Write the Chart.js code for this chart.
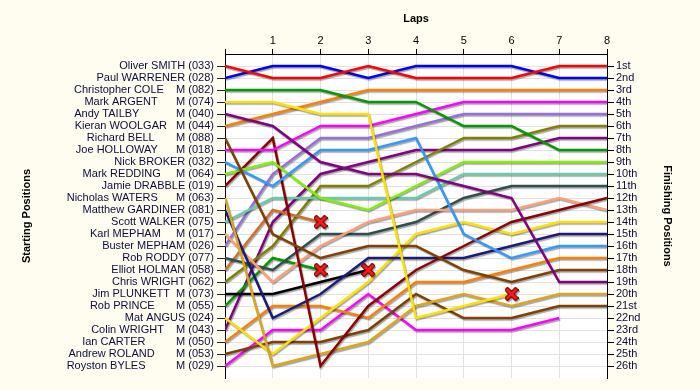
<!DOCTYPE html>
<html>
<head>
<meta charset="utf-8">
<script src="https://cdn.jsdelivr.net/npm/chart.js@4.4.1/dist/chart.umd.min.js"></script>
<style>
  html, body { margin: 0; padding: 0; background: #fefdf0; }
  #wrap { width: 700px; height: 390px; }
</style>
</head>
<body>
<div id="wrap"><canvas id="lap-chart" width="700" height="390"></canvas></div>
<script>
// Starting grid labels, top to bottom (as printed on the left axis)
var startLabels = [
  "Oliver SMITH (033)",
  "Paul WARRENER (028)",
  "Christopher COLE    M (082)",
  "Mark ARGENT      M (074)",
  "Andy TAILBY            M (040)",
  "Kieran WOOLGAR   M (044)",
  "Richard BELL       M (088)",
  "Joe HOLLOWAY      M (018)",
  "Nick BROKER (032)",
  "Mark REDDING     M (064)",
  "Jamie DRABBLE (019)",
  "Nicholas WATERS      M (063)",
  "Matthew GARDINER (081)",
  "Scott WALKER (075)",
  "Karl MEPHAM     M (017)",
  "Buster MEPHAM (026)",
  "Rob RODDY (077)",
  "Elliot HOLMAN (058)",
  "Chris WRIGHT (062)",
  "Jim PLUNKETT  M (073)",
  "Rob PRINCE       M (055)",
  "Mat ANGUS (024)",
  "Colin WRIGHT    M (043)",
  "Ian CARTER          M (050)",
  "Andrew ROLAND       M (053)",
  "Royston BYLES          M (029)"
];

var finishLabels = [
  "1st", "2nd", "3rd", "4th", "5th", "6th", "7th", "8th", "9th", "10th",
  "11th", "12th", "13th", "14th", "15th", "16th", "17th", "18th", "19th", "20th",
  "21st", "22nd", "23rd", "24th", "25th", "26th"
];

var laps = [0, 1, 2, 3, 4, 5, 6, 7, 8];

// running position of each driver at the end of every lap (lap 0 = grid)
var positions = [
  [1, 2, 2, 1, 2, 2, 2, 1, 1],
  [2, 1, 1, 2, 1, 1, 1, 2, 2],
  [3, 3, 3, 4, 4, 6, 6, 8, 8],
  [4, 4, 5, 5, 22, 21, 20, null, null],
  [5, 6, 9, 10, 10, 11, 12, 19, 19],
  [6, 5, 4, 3, 3, 3, 3, 3, 3],
  [7, 15, 17, 16, 16, 18, 19, 18, 18],
  [8, 8, 6, 6, 5, 4, 4, 4, 4],
  [9, 11, 8, 8, 7, 15, 17, 16, 16],
  [10, 9, 12, 13, 11, 9, 9, 9, 9],
  [11, 7, 26, 21, 18, 16, 14, 13, 12],
  [12, 26, 25, 24, 21, 20, 21, 20, 20],
  [13, 22, 20, 17, 17, 17, 16, 15, 15],
  [14, 12, 12, 12, 12, 10, 10, 10, 10],
  [15, 19, 16, 14, 13, 13, 13, 12, 13],
  [16, 10, 7, 7, 6, 5, 5, 5, 5],
  [17, 18, 15, 15, 14, 12, 11, 11, 11],
  [18, 13, 14, null, null, null, null, null, null],
  [19, 16, 11, 11, 9, 7, 7, 6, 6],
  [20, 20, 19, 18, null, null, null, null, null],
  [21, 17, 18, null, null, null, null, null, null],
  [22, 25, 22, 19, 15, 14, 15, 14, 14],
  [23, 14, 10, 9, 8, 8, 8, 7, 7],
  [24, 21, 21, 22, 19, 19, 18, 17, 17],
  [25, 24, 24, 23, 20, 22, 22, 21, 21],
  [26, 23, 23, 20, 23, 23, 23, 22, null]
];

// drivers that retired (marked with a cross at their last lap)
var retired = [3, 17, 19, 20];

var lineColors = [
  "#ff0000", "#0000f0", "#009900", "#ffe000", "#800080", "#ff8000", "#7f4000",
  "#ff00ff", "#3399ff", "#80f000", "#8b0000", "#daa520", "#1c1c78", "#66cdaa",
  "#ffa07a", "#9370db", "#2f4f4f", "#cd7032", "#808000", "#000000",
  "#009900", "#ffe000", "#800080", "#ff8000", "#7f4000", "#ff00ff"
];

var FONT = "'Liberation Sans', Arial, sans-serif";

function makeCross() {
  var c = document.createElement("canvas");
  c.width = 14;
  c.height = 14;
  var g = c.getContext("2d");
  g.beginPath();
  g.moveTo(3, 3); g.lineTo(11, 11);
  g.moveTo(11, 3); g.lineTo(3, 11);
  g.lineCap = "square";
  g.strokeStyle = "#5a0000";
  g.lineWidth = 5;
  g.stroke();
  g.strokeStyle = "#ff1a1a";
  g.lineWidth = 3;
  g.stroke();
  return c;
}

function seriesPoints(row) {
  var pts = [];
  for (var i = 0; i < laps.length; i++) {
    if (row[i] != null) pts.push({ x: laps[i], y: row[i] });
  }
  return pts;
}

var datasets = positions.map(function (row, i) {
  return {
    label: startLabels[i],
    data: seriesPoints(row),
    borderColor: lineColors[i],
    backgroundColor: lineColors[i],
    borderWidth: 2.5,
    pointRadius: 0,
    fill: false,
    tension: 0
  };
});

var crossPts = retired.map(function (d) {
  var pts = seriesPoints(positions[d]);
  return pts[pts.length - 1];
});

datasets.push({
  label: "Retired",
  type: "scatter",
  data: crossPts,
  pointStyle: makeCross(),
  pointRadius: 7,
  showLine: false,
  order: -1
});

var backdrop = {
  id: "backdrop",
  beforeDraw: function (chart) {
    var ctx = chart.ctx, a = chart.chartArea;
    ctx.save();
    ctx.fillStyle = "#fefdf0";
    ctx.fillRect(0, 0, chart.width, chart.height);
    ctx.fillStyle = "#ffffff";
    ctx.fillRect(a.left, a.top, a.right - a.left, a.bottom - a.top);
    ctx.restore();
  }
};

var shadow = {
  id: "shadow",
  beforeDatasetDraw: function (chart) {
    var ctx = chart.ctx;
    ctx.save();
    ctx.shadowColor = "rgba(0,0,0,0.35)";
    ctx.shadowBlur = 1;
    ctx.shadowOffsetX = 1;
    ctx.shadowOffsetY = 1.5;
  },
  afterDatasetDraw: function (chart) {
    chart.ctx.restore();
  }
};

function positionTicks(scale) {
  scale.ticks = finishLabels.map(function (_, i) { return { value: i + 1 }; });
}

new Chart(document.getElementById("lap-chart").getContext("2d"), {
  type: "line",
  data: { datasets: datasets },
  plugins: [backdrop, shadow],
  options: {
    responsive: false,
    animation: false,
    layout: { padding: { left: 0, right: 0, top: 0, bottom: 12 } },
    plugins: {
      legend: { display: false },
      tooltip: { enabled: false }
    },
    scales: {
      x: {
        type: "linear",
        position: "top",
        min: 0,
        max: 8,
        afterFit: function (s) { s.height = 54; },
        ticks: {
          stepSize: 1,
          padding: 1,
          color: "#000",
          font: { family: FONT, size: 11 },
          callback: function (v) { return v === 0 ? "" : v; }
        },
        grid: { color: "#e2e2e2", tickColor: "#000", tickLength: 5 },
        border: { color: "#000", width: 1 },
        title: {
          display: true,
          text: "Laps",
          color: "#000",
          font: { family: FONT, size: 11, weight: "bold" },
          padding: { top: 12, bottom: 0 }
        }
      },
      y: {
        type: "linear",
        position: "left",
        reverse: true,
        min: 0,
        max: 27,
        afterBuildTicks: positionTicks,
        afterFit: function (s) { s.width = 225; },
        ticks: {
          autoSkip: false,
          padding: 3,
          color: "#0c0c3a",
          font: { family: FONT, size: 11 },
          callback: function (v) { return startLabels[v - 1] || ""; }
        },
        grid: { color: "#e2e2e2", tickColor: "#222", tickLength: 8 },
        border: { color: "#000", width: 1 },
        title: {
          display: true,
          text: "Starting Positions",
          color: "#000",
          font: { family: FONT, size: 11, weight: "bold" },
          padding: { top: 20, bottom: 0 }
        }
      },
      y2: {
        type: "linear",
        position: "right",
        reverse: true,
        min: 0,
        max: 27,
        afterBuildTicks: positionTicks,
        afterFit: function (s) { s.width = 93; },
        ticks: {
          autoSkip: false,
          padding: 2,
          color: "#0c0c3a",
          font: { family: FONT, size: 11 },
          callback: function (v) { return finishLabels[v - 1] || ""; }
        },
        grid: { drawOnChartArea: false, tickColor: "#000", tickLength: 7 },
        border: { color: "#000", width: 1 },
        title: {
          display: true,
          text: "Finishing Positions",
          color: "#000",
          font: { family: FONT, size: 11, weight: "bold" },
          padding: { top: 26, bottom: 0 }
        }
      }
    }
  }
});
</script>
</body>
</html>
